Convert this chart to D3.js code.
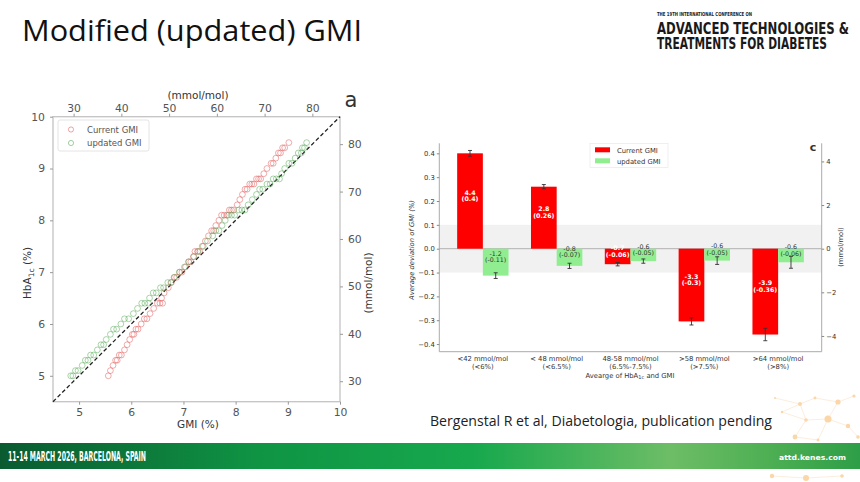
<!DOCTYPE html>
<html><head><meta charset="utf-8">
<script src="https://cdn.jsdelivr.net/npm/d3@7/dist/d3.min.js"></script>
<style>html,body{margin:0;padding:0;background:#fff;}svg{display:block;}</style>
</head><body>
<svg id="slide" width="860" height="482"></svg>
<script>
// ---------- DATA ----------
// Panel a: HbA1c levels (%) and GMI (%) readings of the points at each level
const hba1cLevels = [5.0,5.1,5.2,5.3,5.4,5.5,5.6,5.7,5.8,5.9,6.0,6.1,6.2,6.3,6.4,6.5,6.6,6.7,6.8,6.9,7.0,7.1,7.2,7.3,7.4,7.5,7.6,7.7,7.8,7.9,8.0,8.1,8.2,8.3,8.4,8.5,8.6,8.7,8.8,8.9,9.0,9.1,9.2,9.3,9.4,9.5];
const currentGMI = [[5.56],[5.60],[5.65],[5.70,5.73],[5.77,5.81],[5.87],[5.92],[5.97],[6.02,6.05],[6.09,6.13],[6.19],[6.25,6.30],[6.36],[6.43],[6.50,6.55,6.60],[6.58],[6.63],[6.71],[6.77],[6.83,6.87],[6.93,6.97],[7.04],[7.10,7.14],[7.19],[7.22,7.27,7.31],[7.36],[7.42],[7.48],[7.54,7.58],[7.62],[7.68],[7.73,7.78,7.83],[7.88,7.92,7.96],[8.03],[8.08],[8.13],[8.18,8.22],[8.27,8.31,8.35],[8.40,8.44,8.48],[8.54],[8.60],[8.68,8.72],[8.77],[8.82,8.86],[8.90,8.94],[9.02]];
const updatedGMI = [[4.84,4.88],[4.93,4.98],[5.06],[5.12,5.17],[5.22,5.28],[5.35],[5.42,5.47],[5.52],[5.60],[5.66,5.72],[5.80],[5.87,5.95],[6.04],[6.12],[6.20,6.26,6.33],[6.35],[6.42,6.48],[6.56,6.62],[6.70,6.76],[6.82],[6.92],[7.02],[7.10],[7.20],[7.28],[7.38],[7.46],[7.56],[7.62,7.68],[7.74],[7.80],[7.86,7.92,7.98],[8.06,8.12,8.18],[8.24],[8.32],[8.40],[8.46,8.52],[8.60,8.66],[8.72,8.78,8.84],[8.88],[8.94],[9.02,9.08],[9.14],[9.20,9.26],[9.28,9.32],[9.36]];
const pctTicks = [5,6,7,8,9,10];
const mmolTicks = [30,40,50,60,70,80];

// Panel c: deviation by HbA1c category
const catLine1 = ["<42 mmol/mol","< 48 mmol/mol","48-58 mmol/mol",">58 mmol/mol",">64 mmol/mol"];
const catLine2 = ["(<6%)","(<6.5%)","(6.5%-7.5%)","(>7.5%)","(>8%)"];
const currentDev = [0.40,0.26,-0.065,-0.305,-0.36];
const currentErr = [0.012,0.009,0.007,0.015,0.026];
const updatedDev = [-0.113,-0.072,-0.052,-0.050,-0.057];
const updatedErr = [0.012,0.011,0.009,0.016,0.025];
const currentLbl1 = ["4.4","2.8","-0.7","-3.3","-3.9"];
const currentLbl2 = ["(0.4)","(0.26)","(-0.06)","(-0.3)","(-0.36)"];
const updatedLbl1 = ["-1.2","-0.8","-0.6","-0.6","-0.6"];
const updatedLbl2 = ["(-0.11)","(-0.07)","(-0.05)","(-0.05)","(-0.06)"];
const devTicks = [-0.4,-0.3,-0.2,-0.1,0.0,0.1,0.2,0.3,0.4];
const devMmolTicks = [-4,-2,0,2,4];

// ---------- DRAW ----------
const svg = d3.select("#slide");
const defs = svg.append("defs");
const minus = s => String(s).replace("-", "\u2212");
const toMmol = p => 10.929 * p - 23.5;

// Title
svg.append("text").attr("x",22).attr("y",41).attr("font-family","'Open Sans', sans-serif")
  .attr("font-size",29).attr("fill","#111").attr("textLength",340).attr("lengthAdjust","spacingAndGlyphs")
  .text("Modified (updated) GMI");

// Conference logo (condensed, vertically stretched)
const condensed = "'DejaVu Sans Condensed','DejaVu Sans',sans-serif";
function stretchText(x, y, size, sy, len, txt, fill, anchor){
  const g = svg.append("g").attr("transform",`translate(${x},${y}) scale(1,${sy})`);
  g.append("text").attr("x",0).attr("y",0).attr("font-family",condensed).attr("font-weight","bold")
    .attr("font-size",size).attr("fill",fill).attr("text-anchor",anchor||"start")
    .attr("textLength",len).attr("lengthAdjust","spacingAndGlyphs").text(txt);
}
stretchText(657,15.5,4.4,1.25,95,"THE 19TH INTERNATIONAL CONFERENCE ON","#1a1a1a");
stretchText(657,33.5,12.8,1.25,192,"ADVANCED TECHNOLOGIES &","#1a1a1a");
stretchText(657,48.5,12.8,1.25,170,"TREATMENTS FOR DIABETES","#1a1a1a");

// decorative orange network (bottom right)
const deco = svg.append("g").attr("opacity",0.45);
const nodes = [[800,404,2],[815,398,1.4],[838,402,2.6],[854,396,1.6],[806,420,1.8],[828,419,3.5],[848,426,2.2],[795,437,2.4],[818,440,1.4],[858,437,1.8],[782,412,1.2],[772,476,2.2],[806,478,3],[842,476,1.8],[775,398,1]];
const links = [[0,1],[1,2],[2,3],[0,4],[4,5],[5,6],[5,2],[4,7],[7,8],[8,5],[6,9],[10,0],[10,4],[11,12],[12,13],[14,0]];
deco.selectAll("line").data(links).enter().append("line")
  .attr("x1",d=>nodes[d[0]][0]).attr("y1",d=>nodes[d[0]][1]).attr("x2",d=>nodes[d[1]][0]).attr("y2",d=>nodes[d[1]][1])
  .attr("stroke","#f5b56a").attr("stroke-width",0.5);
deco.selectAll("circle").data(nodes).enter().append("circle")
  .attr("cx",d=>d[0]).attr("cy",d=>d[1]).attr("r",d=>d[2]).attr("fill","#f4a640");

// Footer band
const grad = defs.append("linearGradient").attr("id","band").attr("x1","0").attr("x2","1").attr("y1","0").attr("y2","0");
[[0,"#0a5a30"],[0.3,"#0f9444"],[0.55,"#17a84d"],[0.78,"#6dbd66"],[0.9,"#4cae52"],[1,"#2e9e48"]].forEach(s=>grad.append("stop").attr("offset",s[0]).attr("stop-color",s[1]));
svg.append("rect").attr("x",0).attr("y",443).attr("width",860).attr("height",26).attr("fill","url(#band)");
stretchText(8,460.5,9.5,1.4,138,"11-14 MARCH 2026, BARCELONA, SPAIN","#fff");
svg.append("text").attr("x",846).attr("y",459.5).attr("text-anchor","end").attr("font-family","'DejaVu Sans',sans-serif")
  .attr("font-weight","bold").attr("font-size",7.2).attr("fill","#fff").attr("textLength",67).attr("lengthAdjust","spacingAndGlyphs")
  .text("attd.kenes.com");

// Citation
svg.append("text").attr("x",430).attr("y",426).attr("font-family","'Open Sans', sans-serif").attr("font-size",14.5)
  .attr("fill","#222").attr("textLength",342).attr("lengthAdjust","spacingAndGlyphs")
  .text("Bergenstal R et al, Diabetologia, publication pending");

// ---------- Panel a: scatter ----------
(function(){
  const L=53, R=340, T=116.7, B=401.7;
  const x = d3.scaleLinear().domain([4.5,10]).range([L,R]);
  const y = d3.scaleLinear().domain([4.5,10]).range([B,T]);
  const g = svg.append("g").attr("font-family","'DejaVu Sans',sans-serif").attr("fill","#444");
  g.append("rect").attr("x",L).attr("y",T).attr("width",R-L).attr("height",B-T).attr("fill","none").attr("stroke","#c4c4c4").attr("stroke-width",1.3);
  const ax = (sel)=>{sel.select(".domain").remove(); sel.selectAll(".tick line").attr("stroke","#999"); sel.selectAll(".tick text").attr("fill","#555").attr("font-size",10.8).attr("font-family","'DejaVu Sans',sans-serif");};
  g.append("g").attr("transform",`translate(0,${B})`).call(d3.axisBottom(x).tickValues(pctTicks).tickSize(3).tickPadding(4).tickFormat(d3.format("d"))).call(ax);
  g.append("g").attr("transform",`translate(${L},0)`).call(d3.axisLeft(y).tickValues(pctTicks).tickSize(3).tickPadding(5).tickFormat(d3.format("d"))).call(ax);
  const xm = d3.scaleLinear().domain([toMmol(4.5),toMmol(10)]).range([L,R]);
  const ym = d3.scaleLinear().domain([toMmol(4.5),toMmol(10)]).range([B,T]);
  g.append("g").attr("transform",`translate(0,${T})`).call(d3.axisTop(xm).tickValues(mmolTicks).tickSize(3).tickPadding(2).tickFormat(d3.format("d"))).call(ax);
  g.append("g").attr("transform",`translate(${R},0)`).call(d3.axisRight(ym).tickValues(mmolTicks).tickSize(3).tickPadding(5).tickFormat(d3.format("d"))).call(ax);
  g.append("text").attr("x",198).attr("y",428).attr("text-anchor","middle").attr("font-size",10.5).attr("fill","#333").text("GMI (%)");
  g.append("text").attr("x",198).attr("y",99).attr("text-anchor","middle").attr("font-size",10.5).attr("fill","#333").text("(mmol/mol)");
  const yl = g.append("text").attr("transform","translate(31,273) rotate(-90)").attr("text-anchor","middle").attr("font-size",10.5).attr("fill","#333");
  yl.append("tspan").text("HbA");
  yl.append("tspan").attr("font-size",7.5).attr("dy",2.5).text("1c");
  yl.append("tspan").attr("dy",-2.5).text(" (%)");
  g.append("text").attr("transform","translate(372,283) rotate(-90)").attr("text-anchor","middle").attr("font-size",10.5).attr("fill","#333").text("(mmol/mol)");
  g.append("text").attr("x",351).attr("y",107).attr("text-anchor","middle").attr("font-size",21).attr("fill","#333").text("a");
  g.append("line").attr("x1",x(4.5)).attr("y1",y(4.5)).attr("x2",x(10)).attr("y2",y(10))
    .attr("stroke","#222").attr("stroke-width",1.3).attr("stroke-dasharray","4,2.5");
  const pts = (arr)=>arr.flatMap((xs,i)=>xs.map(v=>({x:v,y:hba1cLevels[i]})));
  g.append("g").selectAll("circle").data(pts(currentGMI)).enter().append("circle")
    .attr("cx",d=>x(d.x)).attr("cy",d=>y(d.y)).attr("r",2.9).attr("fill","none").attr("stroke","#e05555").attr("stroke-opacity",0.55).attr("stroke-width",0.9);
  g.append("g").selectAll("circle").data(pts(updatedGMI)).enter().append("circle")
    .attr("cx",d=>x(d.x)).attr("cy",d=>y(d.y)).attr("r",2.9).attr("fill","none").attr("stroke","#52a852").attr("stroke-opacity",0.55).attr("stroke-width",0.9);
  const lg = g.append("g");
  lg.append("rect").attr("x",58).attr("y",120).attr("width",91).attr("height",31).attr("rx",2).attr("fill","#fff").attr("stroke","#ddd").attr("stroke-width",0.8);
  lg.append("circle").attr("cx",71).attr("cy",129.5).attr("r",2.6).attr("fill","none").attr("stroke","#e05555").attr("stroke-opacity",0.6).attr("stroke-width",0.9);
  lg.append("circle").attr("cx",71).attr("cy",143).attr("r",2.6).attr("fill","none").attr("stroke","#52a852").attr("stroke-opacity",0.6).attr("stroke-width",0.9);
  lg.append("text").attr("x",87).attr("y",132.5).attr("font-size",8.5).attr("fill","#555").text("Current GMI");
  lg.append("text").attr("x",87).attr("y",146).attr("font-size",8.5).attr("fill","#555").text("updated GMI");
})();

// ---------- Panel c: bars ----------
(function(){
  const L=439.3, R=821.7, T=143.3, B=351.7;
  const y = d3.scaleLinear().domain([-0.432,0.442]).range([B,T]);
  const x = d3.scalePoint().domain(catLine1).range([L,R]).padding(0.59);
  const bw = x.step()*0.348;
  const g = svg.append("g").attr("font-family","'DejaVu Sans',sans-serif");
  g.append("rect").attr("x",L).attr("y",y(0.1)).attr("width",R-L).attr("height",y(-0.1)-y(0.1)).attr("fill","#f1f1f1");
  g.append("line").attr("x1",L).attr("x2",R).attr("y1",y(0)).attr("y2",y(0)).attr("stroke","#aaa").attr("stroke-width",0.9);
  const bars = [
    {vals:currentDev, err:currentErr, l1:currentLbl1, l2:currentLbl2, off:-1, fill:"#ff0000", txt:"#fff", bold:"bold"},
    {vals:updatedDev, err:updatedErr, l1:updatedLbl1, l2:updatedLbl2, off:0, fill:"#90ee90", txt:"#333", bold:"normal"}
  ];
  bars.forEach(s=>{
    const gg = g.append("g");
    const data = catLine1.map((c,i)=>({c, v:s.vals[i], e:s.err[i], l1:s.l1[i], l2:s.l2[i]}));
    const cx = d=>x(d.c)+s.off*bw+bw/2;
    gg.selectAll("rect").data(data).enter().append("rect")
      .attr("x",d=>x(d.c)+s.off*bw).attr("width",bw)
      .attr("y",d=>y(Math.max(0,d.v))).attr("height",d=>Math.abs(y(d.v)-y(0))).attr("fill",s.fill);
    const eb = gg.selectAll("g.eb").data(data).enter().append("g").attr("stroke","#333").attr("stroke-width",0.9);
    eb.append("line").attr("x1",cx).attr("x2",cx).attr("y1",d=>y(d.v-d.e)).attr("y2",d=>y(d.v+d.e));
    eb.append("line").attr("x1",d=>cx(d)-2).attr("x2",d=>cx(d)+2).attr("y1",d=>y(d.v-d.e)).attr("y2",d=>y(d.v-d.e));
    eb.append("line").attr("x1",d=>cx(d)-2).attr("x2",d=>cx(d)+2).attr("y1",d=>y(d.v+d.e)).attr("y2",d=>y(d.v+d.e));
    const lab = gg.selectAll("text").data(data).enter().append("text")
      .attr("text-anchor","middle").attr("font-size",6.3).attr("font-weight",s.bold).attr("fill",s.txt);
    lab.append("tspan").attr("x",cx).attr("y",d=>y(d.v/2)-6.3).text(d=>d.l1);
    lab.append("tspan").attr("x",cx).attr("y",d=>y(d.v/2)+0.2).text(d=>d.l2);
  });
  g.append("line").attr("x1",L).attr("x2",L).attr("y1",T).attr("y2",B).attr("stroke","#aaa");
  g.append("line").attr("x1",R).attr("x2",R).attr("y1",T).attr("y2",B).attr("stroke","#aaa");
  g.append("line").attr("x1",L).attr("x2",R).attr("y1",B).attr("y2",B).attr("stroke","#aaa");
  const ax = (sel)=>{sel.select(".domain").remove(); sel.selectAll(".tick line").attr("stroke","#888"); sel.selectAll(".tick text").attr("fill","#333").attr("font-size",6.8).attr("font-family","'DejaVu Sans',sans-serif");};
  g.append("g").attr("transform",`translate(${L},0)`).call(d3.axisLeft(y).tickValues(devTicks).tickSize(2.5).tickPadding(2).tickFormat(d=>minus(d3.format(".1f")(d)))).call(ax);
  const ym = d3.scaleLinear().domain([y.domain()[0]*10.929, y.domain()[1]*10.929]).range([B,T]);
  g.append("g").attr("transform",`translate(${R},0)`).call(d3.axisRight(ym).tickValues(devMmolTicks).tickSize(2.5).tickPadding(2).tickFormat(d=>minus(d))).call(ax);
  const xl = g.append("g").selectAll("text").data(catLine1).enter().append("text").attr("text-anchor","middle").attr("font-size",6.8).attr("fill","#333");
  xl.append("tspan").attr("x",d=>x(d)).attr("y",360.5).text(d=>d);
  xl.append("tspan").attr("x",d=>x(d)).attr("y",369).text((d,i)=>catLine2[i]);
  const xt = g.append("text").attr("x",630).attr("y",377.5).attr("text-anchor","middle").attr("font-size",6.8).attr("fill","#333");
  xt.append("tspan").text("Avearge of HbA");
  xt.append("tspan").attr("font-size",5).attr("dy",1.5).text("1c");
  xt.append("tspan").attr("dy",-1.5).text(" and GMI");
  g.append("text").attr("transform","translate(414,250) rotate(-90)").attr("text-anchor","middle").attr("font-size",6.8).attr("font-style","italic").attr("fill","#333").text("Average deviation of GMI (%)");
  g.append("text").attr("transform","translate(843,247) rotate(-90)").attr("text-anchor","middle").attr("font-size",6.8).attr("fill","#333").text("(mmol/mol)");
  g.append("text").attr("x",813).attr("y",150.5).attr("text-anchor","middle").attr("font-size",11).attr("font-weight","bold").attr("fill","#333").text("c");
  const lg = g.append("g");
  lg.append("rect").attr("x",590).attr("y",143.5).attr("width",78).attr("height",24).attr("fill","#fff").attr("stroke","#e5e5e5").attr("stroke-width",0.6);
  lg.append("rect").attr("x",595).attr("y",147.3).attr("width",15).attr("height",5).attr("fill","#ff0000");
  lg.append("rect").attr("x",595).attr("y",158.3).attr("width",15).attr("height",5).attr("fill","#90ee90");
  lg.append("text").attr("x",617).attr("y",152.6).attr("font-size",6.8).attr("fill","#333").text("Current GMI");
  lg.append("text").attr("x",617).attr("y",163.6).attr("font-size",6.8).attr("fill","#333").text("updated GMI");
})();
</script>
</body></html>
